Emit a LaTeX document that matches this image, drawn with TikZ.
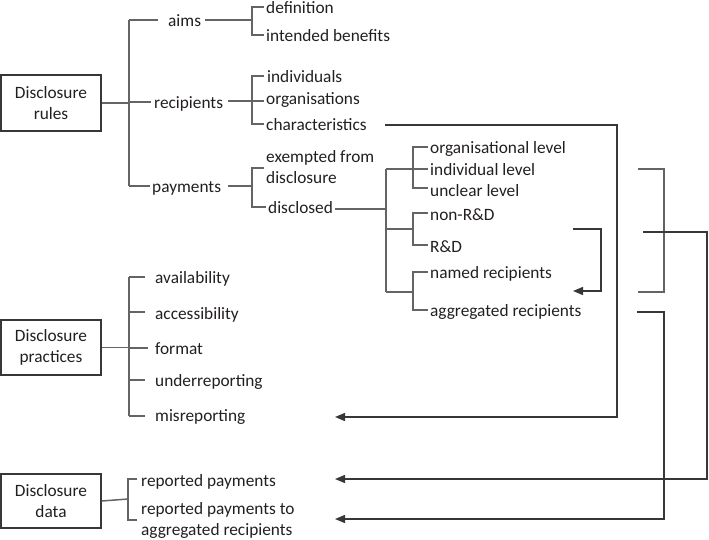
\documentclass[tikz,border=0pt]{standalone}
\usepackage{fontspec}
\setmainfont{Carlito}
\usetikzlibrary{arrows.meta}
\definecolor{txt}{RGB}{35,31,32}
\definecolor{ln}{RGB}{100,100,100}
\definecolor{ar}{RGB}{55,55,55}
\begin{document}
\begin{tikzpicture}[x=1pt,y=-1pt,
  lbl/.style={anchor=base west, inner sep=0pt, font=\fontsize{17.3}{21}\selectfont, text=txt},
  box/.style={draw=ar, line width=1.4pt, minimum width=100pt, inner sep=0pt, align=center,
              font=\fontsize{17.3}{21}\selectfont, text=txt},
  br/.style={draw=ln, line width=1.5pt},
  arr/.style={draw=ar, line width=1.4pt, -{Triangle[length=10pt,width=8pt]}}]
\useasboundingbox (0,0) rectangle (709,539);

% ---------- Disclosure rules ----------
\node[box, minimum height=56pt] (rules) at (51,103) {Disclosure\\rules};
\node[lbl] (aims) at (168,26) {aims};
\node[lbl] (recip) at (154,108) {recipients};
\node[lbl] (pay) at (152,192) {payments};
\node[lbl] (def) at (266,13) {definition};
\node[lbl] (ben) at (266,41) {intended benefits};
\node[lbl] (ind) at (267,82) {individuals};
\node[lbl] (org) at (266,104) {organisations};
\node[lbl] (cha) at (266,130) {characteristics};
\node[lbl, align=left] (exe) at (266,183) {exempted from\\disclosure};
\node[lbl] (dis) at (268,213) {disclosed};
\node[lbl] (orgl) at (430,153) {organisational level};
\node[lbl] (indl) at (430,175) {individual level};
\node[lbl] (uncl) at (430,196) {unclear level};
\node[lbl] (nrd) at (430,220) {non-R\&D};
\node[lbl] (rd) at (430,252) {R\&D};
\node[lbl] (named) at (430,278) {named recipients};
\node[lbl] (agg) at (430,316) {aggregated recipients};

\coordinate (ta) at (129,20);
\coordinate (tb) at (129,186);
\draw[br] (rules.east) -- (rules.east -| ta);
\draw[br] (ta) -- (tb);
\draw[br] (ta) -- (158,20);
\draw[br] (129,102) -- (151,102);
\draw[br] (tb) -- (150,186);
% aims bracket
\draw[br] (205,20) -- (252,20);
\draw[br] (264,7) -- (252,7) -- (252,35) -- (264,35);
% recipients bracket
\draw[br] (228,101) -- (264,101);
\draw[br] (264,76) -- (252,76) -- (252,124) -- (264,124);
% payments bracket
\draw[br] (228,186) -- (252,186);
\draw[br] (264,168) -- (252,168) -- (252,207) -- (266,207);
% disclosed tree
\coordinate (da) at (386,169);
\coordinate (db) at (386,292);
\draw[br] (335,209) -- (386,209);
\draw[br] (da) -- (db);
\draw[br] (da) -- (428,169);
\draw[br] (428,147) -- (413,147) -- (413,188) -- (428,188);
\draw[br] (386,229) -- (413,229);
\draw[br] (428,213) -- (413,213) -- (413,245) -- (428,245);
\draw[br] (db) -- (413,292);
\draw[br] (428,272) -- (413,272) -- (413,310) -- (428,310);

% ---------- Disclosure practices ----------
\node[box, minimum height=55pt] (prac) at (51,347.5) {Disclosure\\practices};
\node[lbl] (avail) at (155,283) {availability};
\node[lbl] (acc) at (155,319) {accessibility};
\node[lbl] (fmt) at (155,354) {format};
\node[lbl] (under) at (155,386) {underreporting};
\node[lbl] (mis) at (155,421) {misreporting};
\coordinate (pa) at (129,277);
\coordinate (pb) at (129,416);
\draw[br] (prac.east) -- (prac.east -| pa);
\draw[br] (pa) -- (pb);
\draw[br] (pa) -- (145,277);
\draw[br] (129,312) -- (145,312);
\draw[br] (129,348) -- (148,348);
\draw[br] (129,380) -- (145,380);
\draw[br] (pb) -- (145,416);

% ---------- Disclosure data ----------
\node[box, minimum height=54pt] (data) at (51,501) {Disclosure\\data};
\node[lbl] (rp) at (141,486) {reported payments};
\node[lbl, align=left] (rpa) at (141,535.5) {reported payments to\\aggregated recipients};
\draw[br] (data.east) -- (128,499);
\draw[br] (137,479) -- (128,479) -- (128,520) -- (137,520);

% ---------- cross arrows ----------
\coordinate (misend) at (335,417);
\coordinate (rpend) at (335,479);
\coordinate (rpaend) at (335,519);
\coordinate (rdend) at (573,291);
\draw[arr] (385,125) -- (617,125) -- (617,417) -- (misend);
\draw[arr] (573,229) -- (601,229) -- (601,291) -- (rdend);
\draw[br] (638,169) -- (664,169) -- (664,292) -- (638,292);
\draw[arr] (643,232) -- (707,232) -- (707,479) -- (rpend);
\draw[arr] (637,312) -- (664,312) -- (664,519) -- (rpaend);
\end{tikzpicture}
\end{document}
